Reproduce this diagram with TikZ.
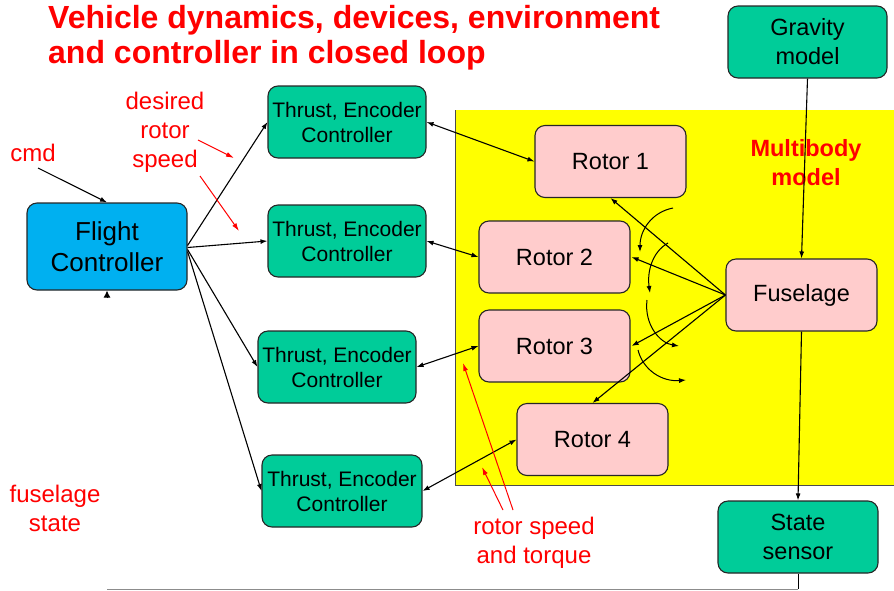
\documentclass[tikz,border=0pt]{standalone}
\usepackage{fontspec}
\setmainfont{Liberation Sans}
\usetikzlibrary{arrows.meta}
\definecolor{boxgreen}{RGB}{0,204,153}
\definecolor{fcblue}{RGB}{0,176,240}
\definecolor{rotorpink}{RGB}{255,204,204}
\definecolor{mbyellow}{RGB}{255,255,0}
\definecolor{lblred}{RGB}{255,0,0}
\begin{document}
\begin{tikzpicture}[x=1pt,y=-1pt,
  blk/.style={draw=black!85, line width=1.1pt, rounded corners=10pt, align=center,
    inner sep=0pt, text=black},
  ctrl/.style={blk, fill=boxgreen, minimum width=158pt, minimum height=72pt,
    font=\fontsize{21}{25}\selectfont},
  greenbox/.style={blk, fill=boxgreen, minimum width=159pt, minimum height=72pt,
    font=\fontsize{23.5}{29}\selectfont},
  rotor/.style={blk, fill=rotorpink, minimum width=151pt, minimum height=72pt,
    font=\fontsize{23.5}{28}\selectfont},
  fcbox/.style={blk, fill=fcblue, minimum width=160pt, minimum height=87pt,
    font=\fontsize{26}{31}\selectfont},
  tip/.tip={Latex[length=7pt,width=5pt]},
  conn/.style={line width=1.1pt, -tip},
  both/.style={line width=1.1pt, tip-tip},
  torque/.style={line width=1pt, -{Latex[length=7pt,width=5pt]}},
  redarr/.style={draw=lblred, line width=1pt, -{Latex[length=8pt,width=5pt]}},
  lbl/.style={text=lblred, align=center, inner sep=0pt, font=\fontsize{24}{29}\selectfont},
  titletxt/.style={text=lblred, inner sep=0pt, anchor=base west,
    font=\bfseries\fontsize{32}{36}\selectfont},
]
\useasboundingbox (0,0) rectangle (894,590);

% multibody region
\fill[mbyellow] (455,110) rectangle (894,485);
\draw[black!70, line width=1pt] (455,110) -- (455,485) -- (894,485);

% title
\node[titletxt] (title1) at (48,28) {Vehicle dynamics, devices, environment};
\node[titletxt] (title2) at (48,63) {and controller in closed loop};

% blocks
\node[fcbox] (fc) at (107,246.5) {Flight\\Controller};
\node[ctrl] (tc1) at (347,122) {Thrust, Encoder\\Controller};
\node[ctrl] (tc2) at (347,241) {Thrust, Encoder\\Controller};
\node[ctrl] (tc3) at (337,367) {Thrust, Encoder\\Controller};
\node[ctrl, minimum width=160pt] (tc4) at (342,491) {Thrust, Encoder\\Controller};
\node[rotor] (r1) at (610.5,161.5) {Rotor 1};
\node[rotor] (r2) at (554.5,257) {Rotor 2};
\node[rotor] (r3) at (554.5,346) {Rotor 3};
\node[rotor] (r4) at (592.5,439.5) {Rotor 4};
\node[rotor] (fus) at (801.5,295) {Fuselage};
\node[greenbox] (grav) at (807.5,42) {Gravity\\model};
\node[greenbox, minimum width=160pt] (ss) at (798,537) {State\\sensor};

% labels
\node[lbl, font=\bfseries\fontsize{23.5}{29}\selectfont] (mb) at (806,163) {Multibody\\model};
\node[lbl] (cmd) at (33,153) {cmd};
\node[lbl] (drs) at (165,132) {desired\\rotor\\speed};
\node[lbl] (fst) at (55,508) {fuselage\\state};
\node[lbl] (rst) at (534,543) {rotor speed\\and torque};

% command input
\coordinate (cmdsrc) at (38,168);
\draw[conn] (cmdsrc) -- (fc.north);

% flight controller to thrust controllers
\draw[conn] ([yshift=1pt]fc.east) -- (tc1.west);
\draw[conn] ([yshift=-1pt]fc.east) -- (tc2.west);
\draw[conn] ([yshift=-3pt]fc.east) -- (tc3.west);
\draw[conn] ([yshift=-5pt]fc.east) -- (tc4.west);

% thrust controllers <-> rotors
\draw[both] (tc1.east) -- (r1.west);
\draw[both] (tc2.east) -- (r2.west);
\draw[both] (tc3.east) -- (r3.west);
\draw[both] (tc4.east) -- (r4.west);

% fuselage to rotors
\draw[conn] (fus.west) -- (r1.south);
\draw[conn] (fus.west) -- ([xshift=1pt]r2.east);
\draw[conn] (fus.west) -- ([xshift=1pt]r3.east);
\draw[conn] (fus.west) -- (r4.north);

% rotor torque reactions
\draw[torque] (673,208) .. controls (652,212) and (640,230) .. (640,252);
\draw[torque] (668,243) .. controls (652,252) and (647,272) .. (650,293);
\draw[torque] (647,300) .. controls (644,325) and (660,343) .. (679,346);
\draw[torque] (638,350) .. controls (643,370) and (662,382) .. (686,380);

% gravity, fuselage, state sensor
\draw[conn] (grav.south) -- (fus.north);
\draw[conn] (fus.south) -- (ss.north);

% state feedback
\coordinate (fbr) at (798,589);
\coordinate (fbl) at (107,589);
\coordinate (fbup) at (107,298);
\draw[line width=1pt] (ss.south) -- (fbr);
\draw[black!45, line width=1pt] (fbr) -- (fbl);
\draw[line width=1pt, -{Latex[length=7pt,width=7pt]}] (fbup) -- (fc.south);

% red label pointers
\coordinate (d1s) at (198,140); \coordinate (d1e) at (234,158);
\coordinate (d2s) at (200,176); \coordinate (d2e) at (239,231);
\draw[redarr] (d1s) -- (d1e);
\draw[redarr] (d2s) -- (d2e);
\coordinate (t1s) at (503,510); \coordinate (t1e) at (482,467);
\coordinate (t2s) at (513,510); \coordinate (t2e) at (463,363);
\draw[redarr] (t1s) -- (t1e);
\draw[redarr] (t2s) -- (t2e);
\end{tikzpicture}
\end{document}
